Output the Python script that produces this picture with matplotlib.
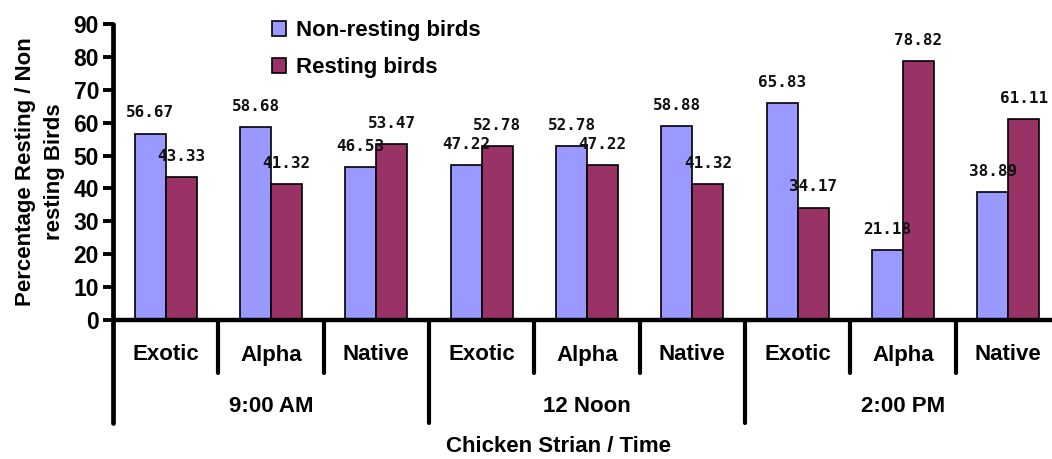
import matplotlib
matplotlib.use("Agg")
import matplotlib.pyplot as plt
from matplotlib.lines import Line2D
from matplotlib.patches import Patch
import numpy as np

strains = ["Exotic", "Alpha", "Native"] * 3
times = ["9:00 AM", "12 Noon", "2:00 PM"]
non_resting = [56.67, 58.68, 46.53, 47.22, 52.78, 58.88, 65.83, 21.18, 38.89]
resting = [43.33, 41.32, 53.47, 52.78, 47.22, 41.32, 34.17, 78.82, 61.11]
series_names = ["Non-resting birds", "Resting birds"]
yticks = [0, 10, 20, 30, 40, 50, 60, 70, 80, 90]

plt.rcParams['font.family'] = ['Liberation Sans', 'DejaVu Sans']
plt.rcParams['font.weight'] = 'bold'

W, H = 1052, 459
fig = plt.figure(figsize=(W / 100, H / 100), dpi=100)
ax_left, ax_bottom = 113 / W, (H - 320) / H
ax_w, ax_h = 948 / W, 296 / H
ax = fig.add_axes([ax_left, ax_bottom, ax_w, ax_h])

c_blue = "#9999FF"
c_red = "#993366"
x = np.arange(len(strains))
bw = 0.295
b1 = ax.bar(x - bw / 2, non_resting, bw, color=c_blue, edgecolor="black", linewidth=1.2, label=series_names[0])
b2 = ax.bar(x + bw / 2, resting, bw, color=c_red, edgecolor="black", linewidth=1.2, label=series_names[1])

for bars, vals in ((b1, non_resting), (b2, resting)):
    for rect, v in zip(bars, vals):
        ax.annotate(f"{v:.2f}", (rect.get_x() + rect.get_width() / 2, v),
                    xytext=(0, 9.5), textcoords="offset points", ha="center", va="bottom",
                    fontsize=11.5, fontweight="bold", family="DejaVu Sans Mono", color="#111111")

ax.set_xlim(-0.5, 8.5)
ax.set_ylim(0, 90)
ax.set_yticks(yticks)
ax.tick_params(axis="y", direction="out", length=7, width=2.8, labelsize=16.5, pad=3)
for lab in ax.get_yticklabels():
    lab.set_fontweight("bold")
ax.set_xticks([])
for s in ("top", "right", "left"):
    ax.spines[s].set_visible(False)
ax.spines["bottom"].set_linewidth(3.2)
ax.spines["bottom"].set_capstyle("round")

trans = ax.get_xaxis_transform()
lw_sep = 3.0
small_bot = -(373 - 320) / 296
big_bot = -(423 - 320) / 296
# left axis line (extends below)
ax.add_line(Line2D([-0.5, -0.5], [1.0, big_bot], transform=trans, color="black",
                   lw=3.4, clip_on=False, solid_capstyle="round"))
for i in range(1, 9):
    bottom = big_bot if i % 3 == 0 else small_bot
    ax.add_line(Line2D([i - 0.5, i - 0.5], [0, bottom], transform=trans, color="black",
                       lw=lw_sep, clip_on=False, solid_capstyle="round"))

cat_y = -(355 - 320) / 296
grp_y = -(407 - 320) / 296
for xi, s in zip(x, strains):
    ax.text(xi, cat_y, s, transform=trans, ha="center", va="center", fontsize=16, fontweight="bold")
for gi, t in enumerate(times):
    ax.text(gi * 3 + 1, grp_y, t, transform=trans, ha="center", va="center", fontsize=16, fontweight="bold")

fig.text(559 / W, 1 - 447 / H, "Chicken Strian / Time", ha="center", va="center",
         fontsize=16, fontweight="bold")
fig.text(40 / W, 1 - 172 / H, "Percentage Resting / Non\nresting Birds", ha="center", va="center",
         rotation=90, fontsize=16, fontweight="bold", linespacing=1.55)

handles = [Patch(facecolor=c_blue, edgecolor="black", linewidth=1.2),
           Patch(facecolor=c_red, edgecolor="black", linewidth=1.2)]
fig.legend(handles, series_names, loc="upper left", bbox_to_anchor=(252 / W, 1 - 0 / H),
           frameon=False, handlelength=0.65, handleheight=0.65,
           handletextpad=0.45, labelspacing=0.72, prop={"weight": "bold", "size": 16})

fig.savefig("out.png", dpi=100)
